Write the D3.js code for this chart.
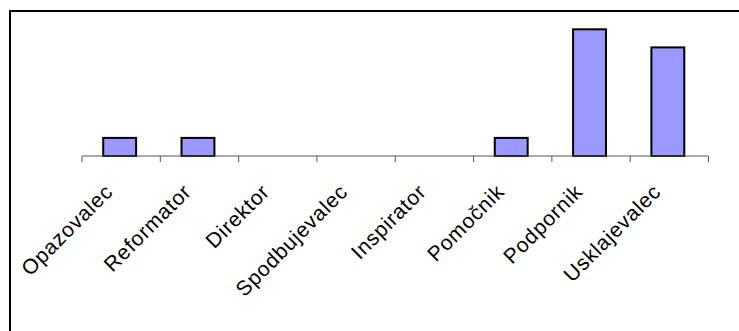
<!DOCTYPE html>
<html>
<head>
<meta charset="utf-8">
<script src="https://cdn.jsdelivr.net/npm/d3@7"></script>
<style>
  html, body { margin: 0; padding: 0; background: #fff; }
  svg { display: block; }
</style>
</head>
<body>
<svg id="chart" width="739" height="331"></svg>
<script>
// Team roles and how many answers fell into each
const categories = ["Opazovalec", "Reformator", "Direktor", "Spodbujevalec",
                    "Inspirator", "Pomočnik", "Podpornik", "Usklajevalec"];
const counts = [1, 1, 0, 0, 0, 1, 7, 6];

const svg = d3.select("#chart");

// Chart frame (right and bottom edges run past the visible area)
svg.append("rect")
  .attr("x", 10).attr("y", 11)
  .attr("width", 800).attr("height", 400)
  .attr("fill", "#fff")
  .attr("stroke", "#000")
  .attr("stroke-width", 2);

const x0 = 82, x1 = 708.5, baseY = 156;

const x = d3.scaleBand()
  .domain(categories)
  .range([x0, x1])
  .paddingInner(0.58)
  .paddingOuter(0.29);

const y = d3.scaleLinear()
  .domain([0, 8])
  .range([baseY, baseY - 8 * 18.1]);

// Bars
svg.append("g")
  .attr("transform", "translate(-1.5,0)")
  .selectAll("rect")
  .data(categories.map((c, i) => ({ c, v: counts[i] })).filter(d => d.v > 0))
  .join("rect")
  .attr("x", d => x(d.c))
  .attr("y", d => y(d.v))
  .attr("width", x.bandwidth())
  .attr("height", d => y(0) - y(d.v))
  .attr("fill", "#9999FF")
  .attr("stroke", "#000")
  .attr("stroke-width", 2);

// Category axis: ticks on the boundaries between categories
const step = (x1 - x0) / categories.length;
const axisG = svg.append("g");
axisG.append("line")
  .attr("x1", x0).attr("x2", x1)
  .attr("y1", baseY).attr("y2", baseY)
  .attr("stroke", "#555").attr("stroke-width", 1);
axisG.selectAll("line.tick")
  .data(d3.range(categories.length + 1))
  .join("line")
  .attr("class", "tick")
  .attr("x1", i => x0 + i * step).attr("x2", i => x0 + i * step)
  .attr("y1", baseY).attr("y2", baseY + 6)
  .attr("stroke", "#555").attr("stroke-width", 1);

// Rotated category labels
axisG.selectAll("text")
  .data(categories)
  .join("text")
  .attr("transform", c => {
    const cx = x(c) + x.bandwidth() / 2 - 7;
    return `translate(${cx},${baseY + 37}) rotate(-45)`;
  })
  .attr("text-anchor", "end")
  .attr("font-family", "Liberation Sans, Arial, sans-serif")
  .attr("font-size", 21)
  .attr("letter-spacing", 0.8)
  .attr("fill", "#000")
  .text(c => c);
</script>
</body>
</html>
